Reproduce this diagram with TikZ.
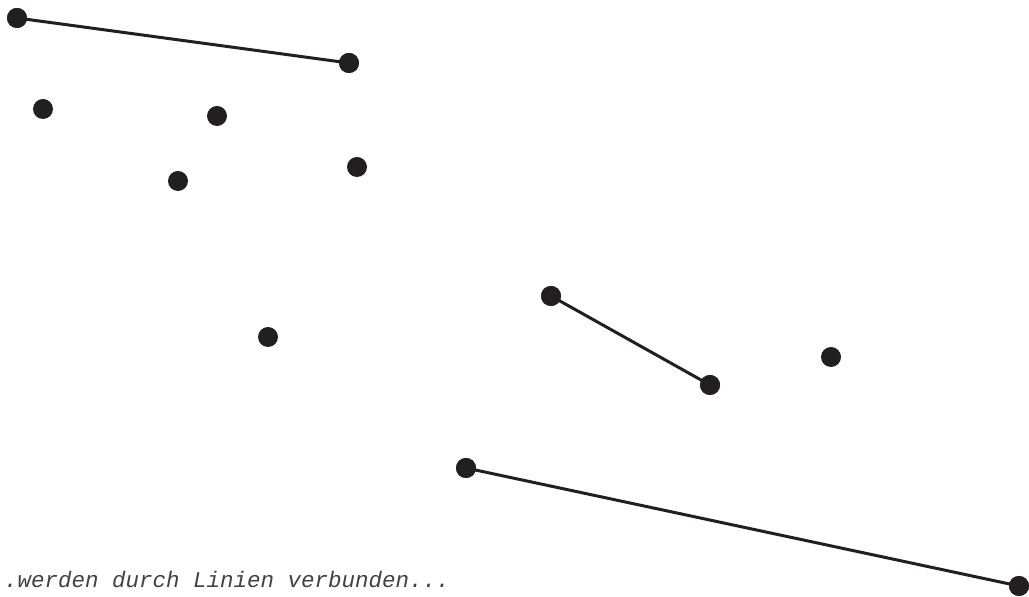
\documentclass[tikz,border=0pt]{standalone}
\usepackage{fontspec}
\newfontfamily\monofont{Liberation Mono}
\definecolor{ink}{HTML}{231F20}
\begin{document}
\begin{tikzpicture}[x=1pt,y=1pt,
  pt/.style={circle,fill=ink,inner sep=0pt,minimum size=20pt},
  conn/.style={draw=ink,line width=3pt}]
\useasboundingbox (0,0) rectangle (1029,597);
\node[pt] (a) at (17,579) {};
\node[pt] (b) at (349,534) {};
\node[pt] (c) at (43,488) {};
\node[pt] (d) at (217,481) {};
\node[pt] (e) at (178,416) {};
\node[pt] (f) at (357,430) {};
\node[pt] (g) at (268,260) {};
\node[pt] (h) at (551,301) {};
\node[pt] (i) at (710,212) {};
\node[pt] (j) at (831,240) {};
\node[pt] (k) at (466,129) {};
\node[pt] (l) at (1019,11) {};
\draw[conn] (a.center) -- (b.center);
\draw[conn] (h.center) -- (i.center);
\draw[conn] (k.center) -- (l.center);
\node[pt] at (a) {};\node[pt] at (b) {};\node[pt] at (h) {};
\node[pt] at (i) {};\node[pt] at (k) {};\node[pt] at (l) {};
\node[anchor=base west,inner sep=0pt,text=ink!85,font=\monofont\itshape\fontsize{22.5}{27}\selectfont] (t) at (4,9) {.werden durch Linien verbunden...};
\end{tikzpicture}
\end{document}
